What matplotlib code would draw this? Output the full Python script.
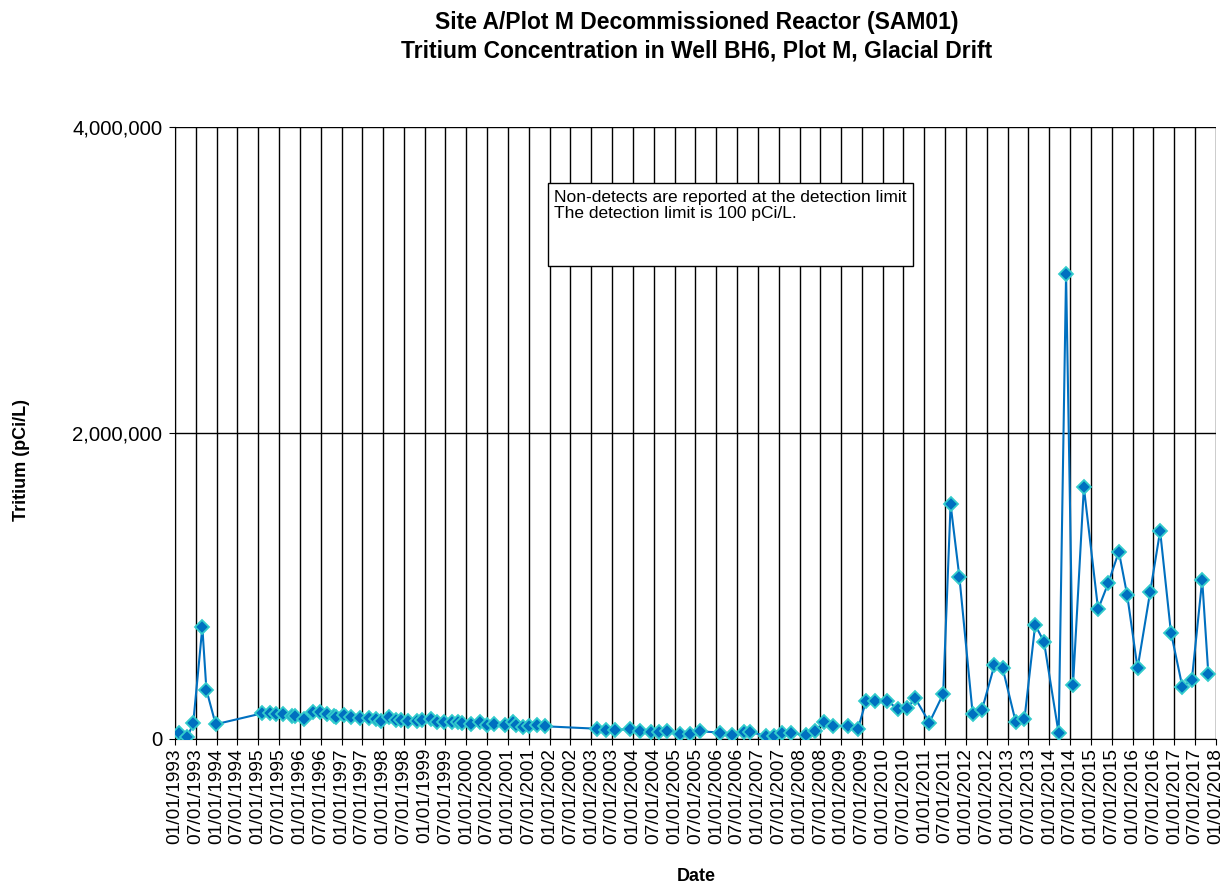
import datetime as dt
import matplotlib
matplotlib.use("Agg")
from matplotlib import pyplot as plt
import matplotlib.dates as mdates
from matplotlib.ticker import FuncFormatter

plt.rcParams["font.family"] = ["Liberation Sans", "DejaVu Sans"]

dates = ["1993-02-06", "1993-04-20", "1993-06-10", "1993-08-29", "1993-10-04", "1993-12-24",
         "1995-02-06", "1995-04-13", "1995-06-10", "1995-08-07", "1995-10-26", "1995-11-24",
         "1996-02-06", "1996-04-27", "1996-06-28", "1996-08-29", "1996-10-26", "1996-11-17",
         "1997-01-22", "1997-03-23", "1997-06-10", "1997-08-29", "1997-10-26", "1997-12-16",
         "1998-02-24", "1998-04-20", "1998-06-03", "1998-08-11", "1998-10-23", "1998-12-05",
         "1999-02-24", "1999-04-20", "1999-06-21", "1999-08-25", "1999-10-19", "1999-11-24",
         "2000-02-13", "2000-04-27", "2000-06-28", "2000-09-02", "2000-12-05",
         "2001-02-13", "2001-03-15", "2001-05-12", "2001-07-06", "2001-09-09", "2001-11-21",
         "2003-02-20", "2003-05-12", "2003-07-31", "2003-12-05",
         "2004-03-07", "2004-06-06", "2004-08-14", "2004-10-23",
         "2005-02-17", "2005-05-19", "2005-08-07",
         "2006-02-06", "2006-05-23", "2006-08-29", "2006-10-26",
         "2007-03-12", "2007-05-19", "2007-07-31", "2007-10-15",
         "2008-02-28", "2008-05-12", "2008-08-07", "2008-10-23",
         "2009-03-04", "2009-05-27", "2009-08-07", "2009-10-26",
         "2010-02-10", "2010-05-12", "2010-07-31", "2010-10-12",
         "2011-02-13", "2011-06-14", "2011-08-18", "2011-11-03",
         "2012-02-28", "2012-05-19", "2012-09-06", "2012-11-17",
         "2013-03-12", "2013-05-27", "2013-08-29", "2013-11-14",
         "2014-03-23", "2014-05-27", "2014-07-27", "2014-10-30",
         "2015-03-04", "2015-05-31", "2015-09-02", "2015-11-14",
         "2016-02-13", "2016-06-03", "2016-08-29", "2016-12-02",
         "2017-03-12", "2017-06-03", "2017-09-02", "2017-10-26"]

tritium = [41000, 11000, 103000, 730000, 320000, 96000,
           168000, 168000, 165000, 165000, 150000, 150000,
           130000, 174000, 174000, 165000, 150000, 146000,
           155000, 146000, 140000, 135000, 128000, 118000,
           146000, 122000, 122000, 120000, 120000, 124000,
           128000, 109000, 111000, 113000, 109000, 102000,
           100000, 111000, 91000, 98000, 94000,
           111000, 89000, 76000, 85000, 94000, 83000,
           67000, 61000, 61000, 63000,
           55000, 46000, 48000, 55000,
           33000, 35000, 50000,
           42000, 28000, 46000, 44000,
           22000, 22000, 39000, 39000,
           24000, 55000, 111000, 85000,
           85000, 65000, 250000, 250000,
           250000, 194000, 200000, 266000,
           107000, 294000, 1534000, 1061000,
           163000, 190000, 484000, 462000,
           109000, 131000, 745000, 636000,
           37000, 3040000, 353000, 1645000,
           848000, 1017000, 1224000, 941000,
           462000, 963000, 1359000, 695000,
           342000, 386000, 1039000, 423000]

x = [dt.datetime.strptime(d, "%Y-%m-%d") for d in dates]

fig = plt.figure(figsize=(12.21, 8.94), dpi=100)
ax = fig.add_axes([0.1433, 0.1734, 0.8526, 0.6846])

ax.plot(x, tritium, "-", color="#0070C0", linewidth=1.5,
        marker="D", markersize=7, markerfacecolor="#0070C0",
        markeredgecolor="#33CCCC", markeredgewidth=1.3, zorder=3)

ticks = []
for yr in range(1993, 2018):
    ticks.append(dt.datetime(yr, 1, 1))
    ticks.append(dt.datetime(yr, 7, 1))
ticks.append(dt.datetime(2018, 1, 1))
ax.set_xticks(ticks)
ax.xaxis.set_major_formatter(mdates.DateFormatter("%m/%d/%Y"))
ax.set_xlim(dt.datetime(1993, 1, 1), dt.datetime(2018, 1, 1))
plt.setp(ax.get_xticklabels(), rotation=90, fontsize=13.8)

ax.set_ylim(0, 4000000)
ax.set_yticks([0, 2000000, 4000000])
ax.yaxis.set_major_formatter(FuncFormatter(lambda v, p: "{:,.0f}".format(v)))
ax.tick_params(axis="both", direction="out", length=4.5, color="black")
ax.tick_params(axis="y", labelsize=14.7, pad=4.5)
ax.tick_params(axis="x", pad=2)

ax.grid(True, color="black", linewidth=1.0)
ax.set_axisbelow(True)
for s in ["top", "right"]:
    ax.spines[s].set_visible(False)

fig.text(0.5705, 0.010, "Date", ha="center", va="bottom", fontsize=13, fontweight="bold")
fig.text(0.018, 0.486, "Tritium (pCi/L)", ha="center", va="center", rotation=90,
         fontsize=13, fontweight="bold")
fig.text(0.5705, 0.988, "Site A/Plot M Decommissioned Reactor (SAM01)\nTritium Concentration in Well BH6, Plot M, Glacial Drift",
         ha="center", va="top", fontsize=16.5, fontweight="bold", linespacing=1.3)

ax.text(0.3641, 0.897, "Non-detects are reported at the detection limit\nThe detection limit is 100 pCi/L.",
        transform=ax.transAxes, ha="left", va="top", fontsize=12.5, linespacing=1.05, zorder=4)
ax.add_patch(plt.Rectangle((0.3583, 0.773), 0.3506, 0.136, transform=ax.transAxes,
                           facecolor="white", edgecolor="black", linewidth=1.0, zorder=2))

plt.savefig("out.png", dpi=100)
